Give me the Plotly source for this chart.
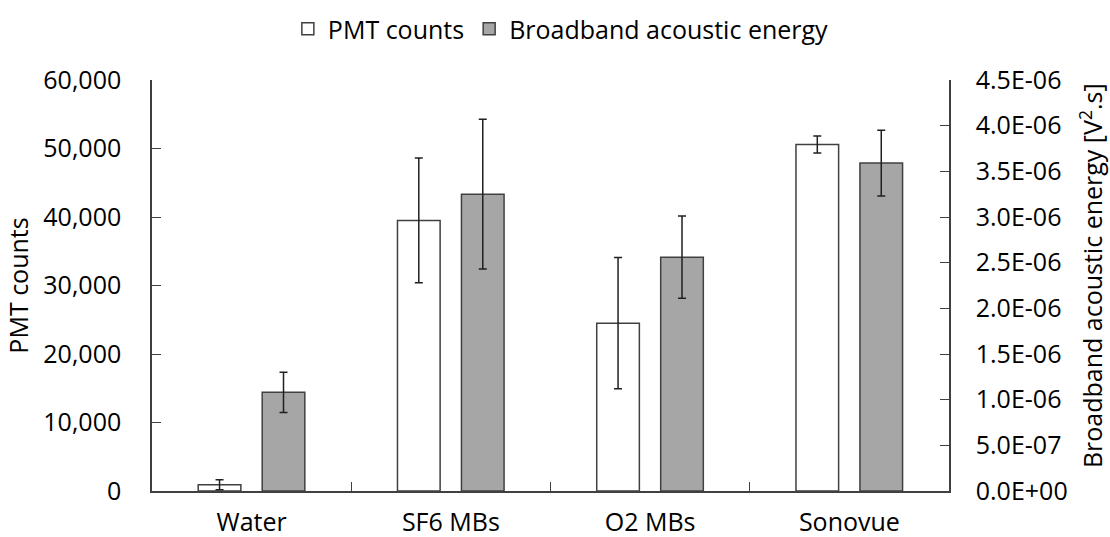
import plotly.graph_objects as go

categories = ["Water", "SF6 MBs", "O2 MBs", "Sonovue"]
pmt_counts = [930, 39500, 24500, 50600]
pmt_err = [730, 9100, 9570, 1240]
acoustic_energy = [1.08e-6, 3.25e-6, 2.56e-6, 3.59e-6]
acoustic_err = [0.22e-6, 0.82e-6, 0.45e-6, 0.36e-6]

left_ticks = [0, 10000, 20000, 30000, 40000, 50000, 60000]
left_ticktext = ["0", "10,000", "20,000", "30,000", "40,000", "50,000", "60,000"]
right_ticks = [0, 0.5e-6, 1.0e-6, 1.5e-6, 2.0e-6, 2.5e-6, 3.0e-6, 3.5e-6, 4.0e-6, 4.5e-6]
right_ticktext = ["0.0E+00", "5.0E-07", "1.0E-06", "1.5E-06", "2.0E-06",
                  "2.5E-06", "3.0E-06", "3.5E-06", "4.0E-06", "4.5E-06"]

FONT = "Open Sans, Noto Sans, sans-serif"
FS = 25
LINE = "#404040"

fig = go.Figure()
fig.add_trace(go.Bar(
    x=categories, y=pmt_counts, name="PMT counts",
    marker=dict(color="white", line=dict(color=LINE, width=1.5)),
    error_y=dict(type="data", array=pmt_err, color="#202020", thickness=1.5, width=4),
    width=0.214, offset=-0.268, yaxis="y",
))
fig.add_trace(go.Bar(
    x=categories, y=acoustic_energy, name="Broadband acoustic energy",
    marker=dict(color="#a6a6a6", line=dict(color=LINE, width=1.5)),
    error_y=dict(type="data", array=acoustic_err, color="#202020", thickness=1.5, width=4),
    width=0.214, offset=0.053, yaxis="y2",
))

fig.update_layout(
    width=1110, height=537,
    margin=dict(l=152, r=161, t=80, b=46, autoexpand=False),
    paper_bgcolor="white", plot_bgcolor="white",
    font=dict(family=FONT, size=FS, color="#000000"),
    barmode="overlay",
    showlegend=True,
    legend=dict(orientation="h", x=0.513, xanchor="center", y=1.124, yanchor="middle",
                font=dict(size=FS), itemwidth=30, traceorder="normal"),
    xaxis=dict(
        showline=True, linecolor=LINE, linewidth=1.5,
        ticks="inside", tickson="boundaries", ticklen=9, tickcolor=LINE,
        mirror=False, showgrid=False, zeroline=False,
        tickfont=dict(size=FS), ticklabelstandoff=8,
    ),
    yaxis=dict(
        title=dict(text="PMT counts", font=dict(size=FS), standoff=8),
        range=[0, 60000], tickvals=left_ticks, ticktext=left_ticktext,
        showline=True, linecolor=LINE, linewidth=1.5,
        ticks="inside", ticklen=9, tickcolor=LINE,
        showgrid=False, zeroline=False, tickfont=dict(size=FS),
        ticklabelstandoff=24,
    ),
    yaxis2=dict(
        range=[0, 4.5e-6], tickvals=right_ticks, ticktext=right_ticktext,
        overlaying="y", side="right",
        showline=True, linecolor=LINE, linewidth=1.5,
        ticks="inside", ticklen=9, tickcolor=LINE,
        showgrid=False, zeroline=False, tickfont=dict(size=FS),
        ticklabelstandoff=20,
    ),
    annotations=[dict(
        text="Broadband acoustic energy [V<sup>2</sup>.s]",
        xref="paper", yref="paper", x=1.178, y=0.525,
        xanchor="center", yanchor="middle", textangle=-90,
        showarrow=False, font=dict(size=25),
    )],
)

fig.write_html("out.html")
